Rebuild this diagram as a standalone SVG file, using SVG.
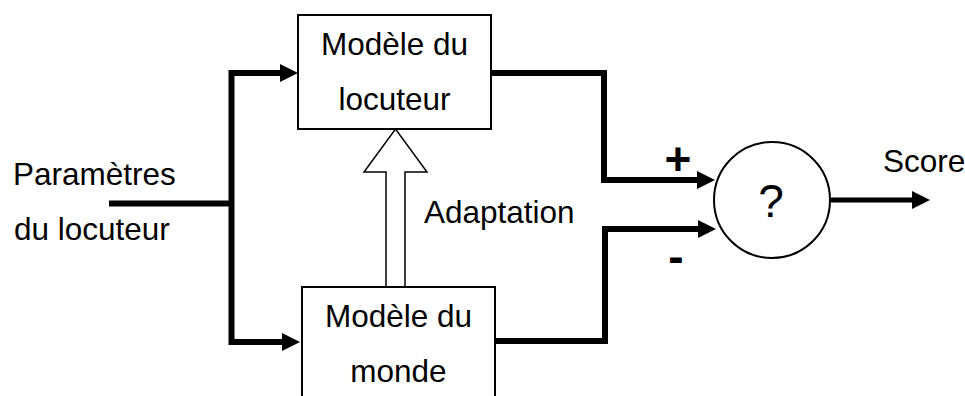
<svg xmlns="http://www.w3.org/2000/svg" width="965" height="396" viewBox="0 0 965 396">
  <style>
    text { font-family: "Liberation Sans", Arial, sans-serif; font-size: 31.5px; fill: #000; }
    .mid { text-anchor: middle; }
    .q { font-size: 46px; }
    .sign { font-size: 46px; font-weight: bold; }
    .box { fill: #fff; stroke: #000; stroke-width: 2; }
    .wire { fill: none; stroke: #000; stroke-width: 6; stroke-linejoin: miter; }
    .thin { fill: none; stroke: #000; stroke-width: 5; }
  </style>
  <defs>
    <marker id="head" markerUnits="userSpaceOnUse" markerWidth="18" markerHeight="18" refX="6" refY="9" orient="auto">
      <path d="M0,0 L18,9 L0,18 z" fill="#000"/>
    </marker>
  </defs>

  <rect width="965" height="396" fill="#fff"/>

  <g id="connectors">
    <!-- input split -->
    <path class="wire" d="M109,203.5 H231.5"/>
    <path class="wire" d="M286,73 H231.5 V342 H288" marker-end="url(#head)"/>
    <path class="wire" d="M231.5,73 H286" marker-end="url(#head)"/>
    <!-- model outputs into comparator -->
    <path class="wire" d="M491,73 H604 V180 H703" marker-end="url(#head)"/>
    <path class="wire" d="M495,341 H605 V229 H704" marker-end="url(#head)"/>
    <!-- score output -->
    <path class="thin" d="M831,200 H918" marker-end="url(#head)"/>
    <!-- adaptation arrow (hollow) -->
    <path d="M386,287 V172 H364 L395.5,129 L427,172 H405 V287" fill="#fff" stroke="#000" stroke-width="1.5" stroke-linejoin="miter"/>
  </g>

  <g id="speaker-model">
    <rect class="box" x="298" y="15" width="193" height="114"/>
    <text class="mid" x="394.5" y="55">Modèle du</text>
    <text class="mid" x="394.5" y="110">locuteur</text>
  </g>

  <g id="world-model">
    <rect class="box" x="302" y="287" width="193" height="130"/>
    <text class="mid" x="398.5" y="327">Modèle du</text>
    <text class="mid" x="398.5" y="382">monde</text>
  </g>

  <g id="comparator">
    <circle cx="772" cy="200" r="58" fill="#fff" stroke="#000" stroke-width="2"/>
    <text class="mid q" x="771" y="217">?</text>
  </g>

  <g id="labels">
    <text x="13" y="185">Paramètres</text>
    <text x="14" y="240">du locuteur</text>
    <text x="424" y="223">Adaptation</text>
    <text x="883" y="172">Score</text>
    <text class="mid sign" x="678" y="175">+</text>
    <text class="mid sign" x="676" y="272">-</text>
  </g>
</svg>
